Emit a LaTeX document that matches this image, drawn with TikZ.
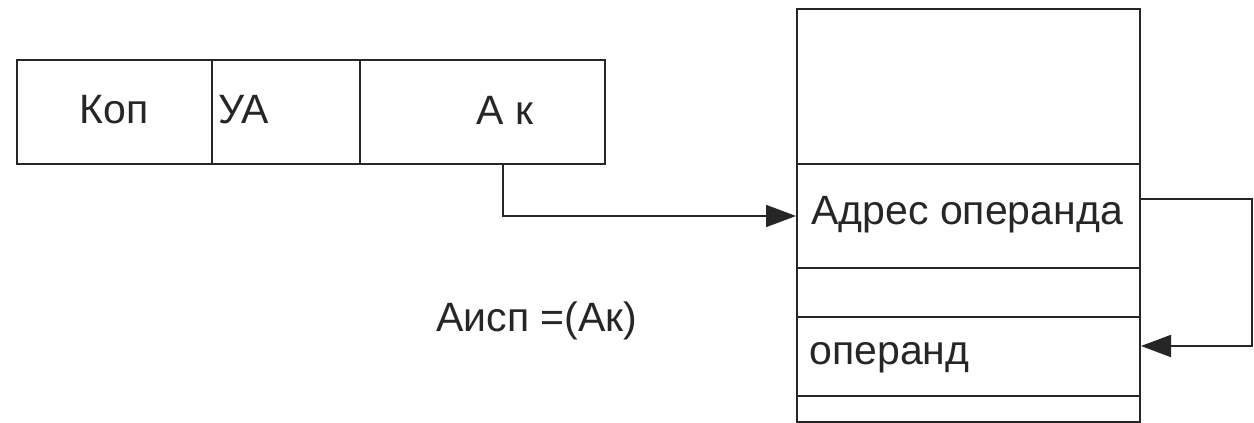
\documentclass[tikz,border=0pt]{standalone}
\usepackage{fontspec}
\setmainfont{Liberation Sans}
\usetikzlibrary{arrows.meta}
\begin{document}
\begin{tikzpicture}[x=0.5pt,y=-0.5pt,
  cell/.style={draw=black!85, line width=1pt, inner sep=0pt, anchor=north west},
  txt/.style={inner sep=0pt, font=\fontsize{20.5pt}{24pt}\selectfont, text=black!85},
  arr/.style={draw=black!85, line width=1pt, -{Triangle[length=15pt,width=11pt]}}]
\useasboundingbox (0,0) rectangle (1254,423);
% instruction word: opcode, addressing mode, address field
\node[cell, minimum width=97.5pt, minimum height=52pt] (kop) at (16,59) {};
\node[cell, minimum width=74pt, minimum height=52pt] (ua) at (211,59) {};
\node[cell, minimum width=122.5pt, minimum height=52pt] (ak) at (359,59) {};
\node[txt] (tkop) at (114,110) {Коп};
\node[txt, anchor=west] (tua) at (218,110) {УА};
\node[txt] (tak) at (505,110) {А к};
% memory cells
\node[cell, minimum width=171.5pt, minimum height=77.5pt] (m1) at (796,8) {};
\node[cell, minimum width=171.5pt, minimum height=52pt] (m2) at (796,163) {};
\node[cell, minimum width=171.5pt, minimum height=24.5pt] (m3) at (796,267) {};
\node[cell, minimum width=171.5pt, minimum height=39.5pt] (m4) at (796,316) {};
\node[cell, minimum width=171.5pt, minimum height=13pt] (m5) at (796,395) {};
\node[txt, anchor=west] (tadr) at (811,215) {Адрес операнда};
\node[txt, anchor=west] (top) at (809,358) {операнд};
\node[txt] (tform) at (537,321) {Аисп =(Ак)};
% connectors
\coordinate (akout) at (503,163);
\draw[arr] (akout) |- (m2.west);
\coordinate (retx) at (1252,199);
\draw[arr] (m2.east |- retx) -- (retx) |- ([yshift=5.25pt]m4.east);
\end{tikzpicture}
\end{document}
